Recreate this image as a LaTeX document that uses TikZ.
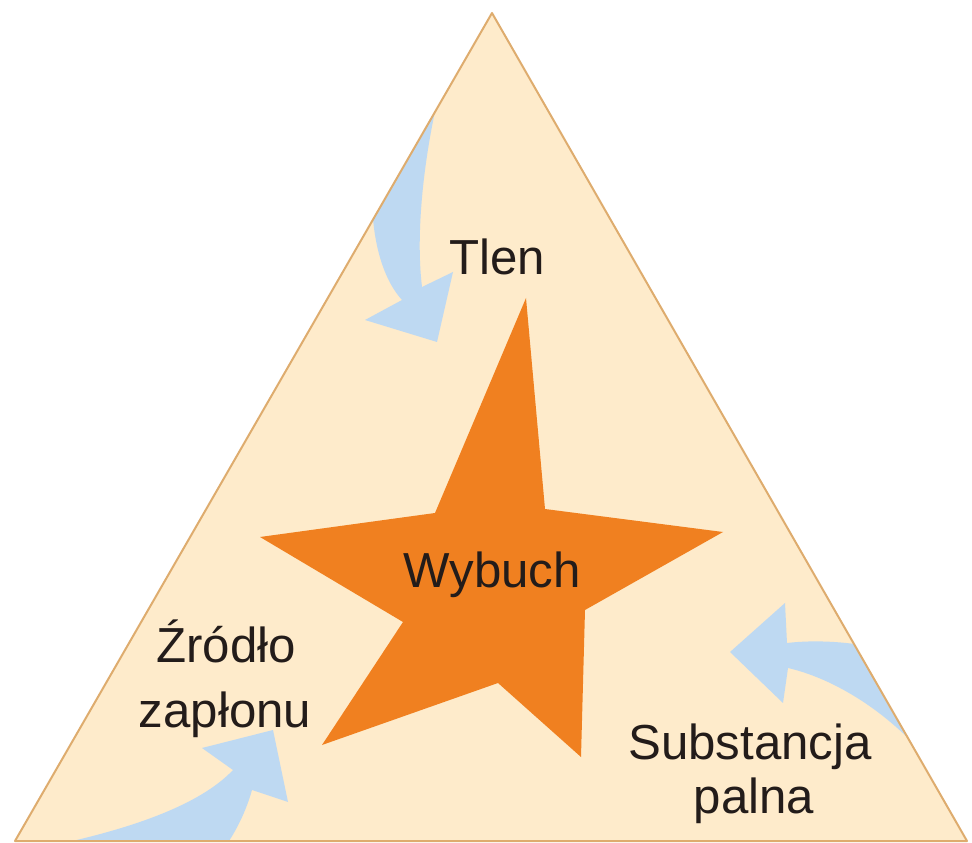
\documentclass[tikz,border=0pt]{standalone}
\usepackage{fontspec}
\setmainfont{Liberation Sans}
\usetikzlibrary{positioning}
\definecolor{paper}{RGB}{254,235,203}
\definecolor{rim}{RGB}{222,172,110}
\definecolor{flame}{RGB}{240,128,32}
\definecolor{sky}{RGB}{190,217,242}
\definecolor{ink}{RGB}{35,28,26}

\begin{document}
\begin{tikzpicture}[
    x=0.1mm, y=-0.1mm,
    lbl/.style={font=\fontsize{14}{17}\selectfont, text=ink, anchor=base, inner sep=0pt},
    flow/.style={fill=sky},
  ]
  \useasboundingbox (0,0) rectangle (972,843);

  \coordinate (apex) at (492,13);
  \coordinate (bl) at (15,841);
  \coordinate (br) at (967,841);
  \fill[paper] (apex) -- (bl) -- (br) -- cycle;

  \begin{scope}
    \clip (apex) -- (bl) -- (br) -- cycle;
    \fill[flow] (440,90) .. controls (425,150) and (415,230) .. (422,287)
      -- (453,272) -- (437,342) -- (365,320) -- (402,300)
      .. controls (370,265) and (360,180) .. (390,90) -- cycle;
    \fill[flow] (40,848) .. controls (130,830) and (200,805) .. (233,770)
      -- (202,748) -- (273,730) -- (288,802) -- (252,790)
      .. controls (245,815) and (232,840) .. (215,860) -- (40,860) -- cycle;
    \fill[flow] (787,643) -- (785,603) -- (730,652) -- (783,703) -- (788,668)
      .. controls (840,680) and (900,720) .. (940,775) -- (920,660)
      .. controls (880,645) and (830,638) .. (787,643) -- cycle;
  \end{scope}
  \draw[rim, line width=0.2mm, line join=round] (apex) -- (bl) -- (br) -- cycle;

  \fill[flame] (526,298) -- (545,509) -- (723,532) -- (585,610) -- (581,757)
    -- (498,683) -- (322,745) -- (403,622) -- (260,537) -- (435,513) -- cycle;

  \node[lbl] (tlen) at (497,275) {Tlen};
  \node[lbl] (wyb) at (492,588) {Wybuch};
  \node[lbl] (zr1) at (226,663) {Źródło};
  \node[lbl] (zr2) at (225,727) {zapłonu};
  \node[lbl] (sub1) at (750,759) {Substancja};
  \node[lbl] (sub2) at (754,813) {palna};

\end{tikzpicture}
\end{document}
